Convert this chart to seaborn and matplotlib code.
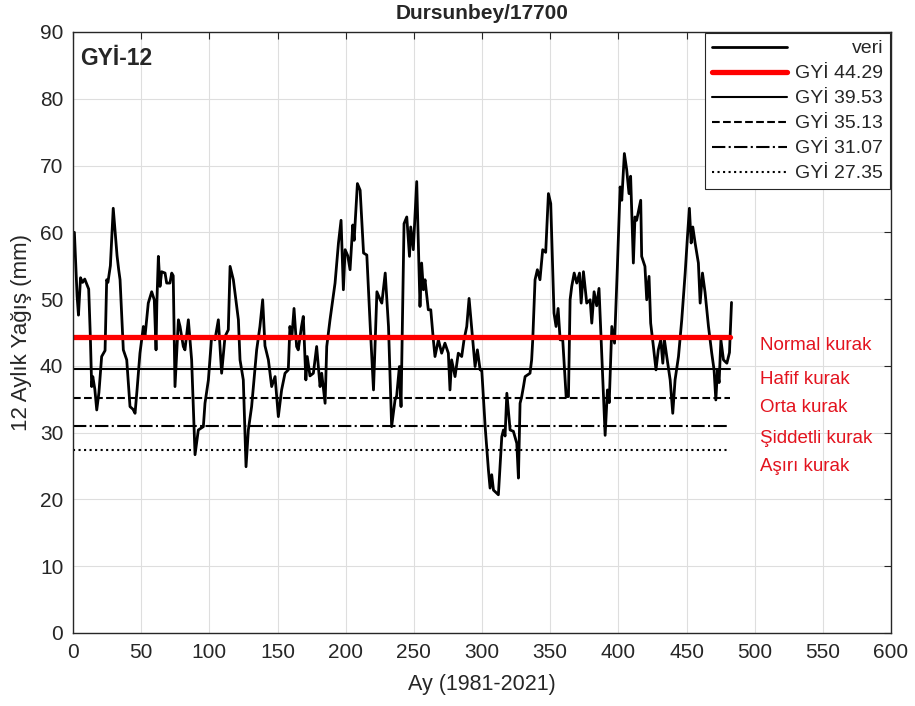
import matplotlib
matplotlib.use('Agg')
import matplotlib.pyplot as plt
import seaborn as sns
import pandas as pd

# ay indeksi ve 12 aylik yagis degerleri
ay = [1, 3, 4, 5.5, 7, 8.6, 10.3, 11.5, 12.7, 13.7, 14.5, 16, 17.4, 19, 21, 23.5,
      24.7, 25.6, 27.4, 29.5, 32.3, 33.5, 34.5, 36.9, 39.4, 41.8, 44, 45.5, 47, 49.1,
      51.6, 52.8, 55.2, 57.7, 59.6, 60.9, 61.5, 62.6, 63.8, 65, 67.5, 68.7, 71.1, 72.4,
      73.5, 74.8, 77.3, 78.5, 80.9, 82.1, 84.6, 87, 89.5, 91.9, 95.6, 96.8, 99.3, 101.7,
      104.1, 106.6, 109, 111.5, 113.9, 115.2, 117.6, 121.3, 122.5, 124.9, 126.9, 128.6,
      131, 134.7, 137.1, 139.1, 140.8, 143.3, 145.7, 148.2, 150.6, 153, 155.5, 157.9,
      159.1, 160.4, 162.1, 164, 165.2, 167.6, 168.9, 170.8, 171.8, 173.8, 176.3, 178.7,
      181.2, 182.4, 184.9, 186.1, 188.5, 190.5, 192.2, 194.7, 196.6, 198.3, 199.6, 201.5,
      203.2, 205.2, 206.2, 208.6, 210.6, 213.1, 215.5, 218, 220.4, 222.9, 225.3, 226.5,
      229, 231.4, 233.7, 236.2, 237.4, 239.4, 240.6, 242.8, 244.8, 246.8, 247.7, 249.6,
      252.1, 254.5, 255.7, 257, 258.2, 260.6, 262.4, 264.3, 265.5, 268, 270.4, 272.8,
      275.3, 276.5, 277.7, 280.2, 282.6, 285.1, 286.8, 288.8, 290.5, 292.5, 294.9, 296.6,
      298.6, 299.8, 302.3, 304.7, 305.9, 307.1, 308.4, 312, 314.5, 315.7, 316.9, 318.2,
      320.6, 323, 325.5, 326.7, 327.9, 329.1, 330.4, 331.6, 335.2, 336.4, 337.2, 338.9,
      340.6, 342.5, 344.5, 346.7, 348.7, 350.4, 352.8, 354.3, 355.8, 357.3, 359.2, 361.7,
      363.4, 364.6, 365.8, 367.6, 369.5, 371.5, 372.7, 374.4, 376.8, 379.3, 380.5, 382.2,
      384.1, 385.8, 387.8, 390.3, 392, 393.3, 395.2, 397.2, 399.3, 401.3, 402.5, 404.4,
      406.1, 407.8, 409, 411, 412.2, 413.4, 416.4, 417.1, 419.5, 420.8, 422.5, 423.7,
      425.7, 427.6, 429.3, 431.1, 432.6, 433.8, 435.5, 438, 439.9, 441.6, 444.1, 446.5,
      449, 450.7, 452.1, 453.4, 454.6, 456.3, 458.7, 460, 461.7, 463.6, 466.1, 468.5,
      470.2, 471.5, 472.7, 473.9, 475.2, 477.1, 479.6, 481.5, 483]
yagis = [60.0, 50.4, 47.6, 53.2, 52.5, 53.0, 52.1, 51.5, 44.4, 36.9, 38.4, 36.5, 33.4, 36.0,
         41.4, 42.3, 52.9, 52.5, 55.0, 63.6, 56.5, 54.4, 52.9, 42.4, 40.9, 33.9, 33.5, 32.9,
         36.5, 41.9, 45.9, 44.4, 49.4, 51.1, 49.9, 42.4, 49.4, 56.4, 51.9, 54.1, 53.9, 52.4,
         52.4, 53.9, 53.5, 36.9, 46.9, 45.9, 42.9, 42.4, 46.9, 40.9, 26.7, 30.4, 30.9, 34.4,
         37.9, 44.4, 43.9, 46.9, 38.9, 44.4, 45.4, 54.9, 52.9, 46.9, 40.9, 37.9, 24.9, 30.4,
         33.9, 42.4, 45.9, 49.9, 43.0, 40.9, 36.9, 38.4, 32.4, 36.4, 38.9, 39.4, 45.9, 44.0,
         48.6, 42.9, 42.4, 45.9, 47.4, 37.9, 41.4, 38.5, 38.9, 42.9, 36.9, 38.9, 34.4, 42.9,
         46.9, 49.9, 52.4, 58.4, 61.8, 51.4, 57.4, 56.5, 54.4, 61.1, 58.8, 67.3, 66.3, 56.9,
         56.6, 45.9, 36.4, 51.1, 49.9, 49.4, 53.9, 45.9, 30.9, 34.9, 35.5, 39.9, 33.9, 61.3,
         62.3, 56.4, 60.8, 57.4, 67.6, 48.9, 55.4, 51.4, 52.9, 48.4, 48.4, 43.9, 41.4, 43.9,
         41.9, 43.4, 41.9, 36.4, 40.9, 38.4, 41.9, 41.4, 43.9, 45.9, 50.1, 45.4, 39.9, 42.4,
         39.4, 39.4, 30.9, 24.4, 21.7, 23.7, 21.4, 20.7, 29.4, 30.4, 29.5, 35.9, 30.4, 30.2,
         28.4, 23.2, 34.4, 35.4, 36.9, 38.4, 38.9, 40.9, 43.9, 52.9, 54.4, 52.9, 57.4, 57.0,
         65.8, 64.3, 47.9, 45.9, 48.6, 43.9, 43.9, 35.4, 35.4, 49.9, 51.9, 53.9, 52.4, 53.9,
         49.4, 54.1, 49.4, 49.9, 46.4, 51.1, 49.0, 51.6, 41.9, 29.6, 36.4, 34.5, 45.9, 43.4,
         54.9, 66.8, 64.8, 71.8, 69.4, 65.8, 68.4, 55.4, 62.3, 61.8, 64.8, 56.4, 54.9, 49.9,
         53.4, 46.4, 42.9, 39.4, 42.4, 43.9, 40.4, 43.9, 41.4, 37.9, 32.9, 37.9, 41.4, 46.9,
         53.9, 59.4, 63.6, 58.4, 60.8, 58.4, 55.4, 49.4, 53.9, 51.0, 45.9, 41.9, 39.4, 34.9,
         39.4, 37.5, 43.9, 40.9, 40.4, 42.0, 49.5]

esikler = [44.29, 39.53, 35.13, 31.07, 27.35]
esik_stil = ['-', '-', '--', '-.', ':']
esik_renk = ['red', 'black', 'black', 'black', 'black']
esik_kalinlik = [3.8, 1.5, 1.5, 1.5, 1.5]
sinif_adlari = ['Normal kurak', 'Hafif kurak', 'Orta kurak', 'Şiddetli kurak', 'Aşırı kurak']
sinif_y = [43.0, 37.9, 33.7, 29.2, 24.9]

sns.set_style('whitegrid')
plt.rcParams['font.family'] = ['Liberation Sans', 'DejaVu Sans']

fig = plt.figure(figsize=(9.15, 7.06), dpi=100)
ax = fig.add_axes([0.0798, 0.1034, 0.894, 0.8513])

df = pd.DataFrame({'ay': ay, 'yagis': yagis})
sns.lineplot(data=df, x='ay', y='yagis', ax=ax, color='black', lw=2.0, label='veri',
             sort=False, estimator=None)

for e, st, c, lw in zip(esikler, esik_stil, esik_renk, esik_kalinlik):
    ax.plot([0, 482], [e, e], ls=st, color=c, lw=lw, label='GYİ %.2f' % e)

for ad, yy in zip(sinif_adlari, sinif_y):
    ax.text(504, yy, ad, color='#e3131e', fontsize=13.5, va='center', ha='left')

ax.text(5, 86, 'GYİ-12', fontsize=16.5, fontweight='bold', va='center', ha='left')

ax.set_xlim(0, 600)
ax.set_ylim(0, 90)
ax.set_xticks(range(0, 601, 50))
ax.set_yticks(range(0, 91, 10))
ax.tick_params(direction='in', length=5, top=True, right=True, labelsize=15,
               color='#262626', labelcolor='#262626', pad=7)
ax.grid(True, color='#dedede', lw=0.8)
for s in ax.spines.values():
    s.set_edgecolor('#262626')
    s.set_linewidth(1.0)

ax.set_xlabel('Ay (1981-2021)', fontsize=15.5, color='#262626', labelpad=9)
ax.set_ylabel('12 Aylık Yağış (mm)', fontsize=16, color='#262626', labelpad=6)
ax.set_title('Dursunbey/17700', fontsize=15, fontweight='bold', pad=9)

leg = ax.legend(loc='upper right', fontsize=14, handlelength=3.9, handletextpad=0.4,
                labelspacing=0.38, borderaxespad=0.05, fancybox=False, framealpha=1,
                edgecolor='#262626', borderpad=0.35)
leg.get_frame().set_linewidth(0.8)

# legend yazilarini saga yasla: her satirin aralik payini buyut
fig.canvas.draw()
r = fig.canvas.get_renderer()
ws = [t.get_window_extent(r).width for t in leg.get_texts()]
mw = max(ws)
satirlar = [row for col in leg._legend_handle_box.get_children() for row in col.get_children()]
for row, w in zip(satirlar, ws):
    row.sep += (mw - w) * 72 / fig.dpi

fig.savefig('out.png', dpi=100)
